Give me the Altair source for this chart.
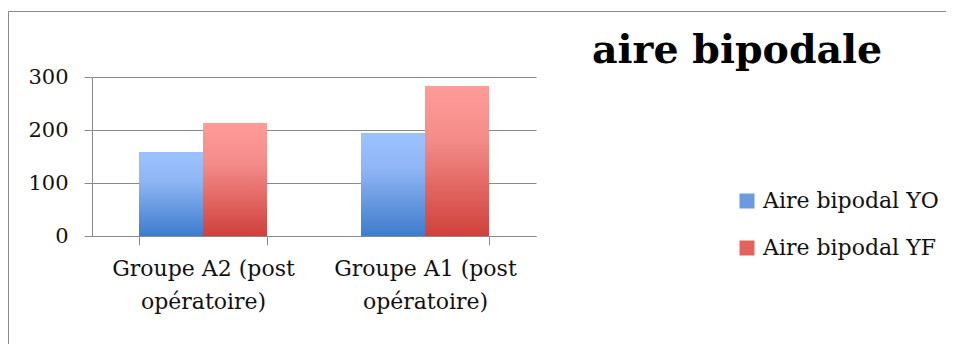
import altair as alt
import pandas as pd

categories = ["Groupe A2 (post\nopératoire)", "Groupe A1 (post\nopératoire)"]
series = ["Aire bipodal YO", "Aire bipodal YF"]
values_yo = [158, 194]
values_yf = [213, 283]
y_ticks = [0, 100, 200, 300]

rows = []
for c, a, b in zip(categories, values_yo, values_yf):
    rows.append({"groupe": c, "serie": series[0], "valeur": a})
    rows.append({"groupe": c, "serie": series[1], "valeur": b})
df = pd.DataFrame(rows)

FONT = "DejaVu Serif"
GRID = "#8a8a8a"

blue_grad = alt.LinearGradient(
    gradient="linear", x1=0, y1=0, x2=0, y2=1,
    stops=[alt.GradientStop(offset=0, color="#9cc2ff"),
           alt.GradientStop(offset=0.35, color="#8fb5f4"),
           alt.GradientStop(offset=1, color="#3d7ccc")])
red_grad = alt.LinearGradient(
    gradient="linear", x1=0, y1=0, x2=0, y2=1,
    stops=[alt.GradientStop(offset=0, color="#ff9b99"),
           alt.GradientStop(offset=0.35, color="#f48d8a"),
           alt.GradientStop(offset=1, color="#d0403b")])

x_enc = alt.X("groupe:N", sort=categories, title=None,
              scale=alt.Scale(paddingInner=0.4235, paddingOuter=0.2118),
              axis=alt.Axis(labelExpr="split(datum.label, '\\n')", labelAngle=0,
                            tickBand="extent", tickSize=9, tickColor=GRID,
                            domainColor=GRID, labelFont=FONT, labelFontSize=22,
                            labelColor="#111111", labelLineHeight=33, labelLimit=400,
                            labelPadding=13, grid=False))
xoff = alt.XOffset("serie:N", sort=series, scale=alt.Scale(paddingInner=0, paddingOuter=0))
y_enc = alt.Y("valeur:Q", title=None,
              scale=alt.Scale(domain=[0, 300], nice=False),
              axis=alt.Axis(values=y_ticks, tickSize=8, tickColor=GRID, domainColor=GRID,
                            gridColor=GRID, gridWidth=1.2, labelFont=FONT, labelFontSize=21,
                            labelColor="#111111", labelPadding=16))

base_bars = alt.Chart(df).mark_bar().encode(
    x=x_enc, xOffset=xoff, y=y_enc,
    color=alt.Color("serie:N", sort=series,
                    scale=alt.Scale(domain=series, range=["#6a9be2", "#e4625e"]),
                    legend=alt.Legend(title=None, orient="none", legendX=644, legendY=113,
                                      symbolType="square", symbolSize=225,
                                      symbolStrokeWidth=0, symbolOpacity=1, labelFont=FONT,
                                      labelFontSize=22, labelColor="#111111",
                                      labelOffset=5, rowPadding=25, padding=0,
                                      labelLimit=400))
)

grad_bars = alt.Chart(df).mark_bar().encode(
    x=alt.X("groupe:N", sort=categories),
    xOffset=alt.XOffset("serie:N", sort=series),
    y=alt.Y("valeur:Q"),
    color=alt.condition(alt.datum.serie == series[0], alt.value(blue_grad), alt.value(red_grad)),
)

frame = alt.Chart(alt.Data(values=[{}])).mark_rect(
    fill="transparent", stroke=GRID, strokeWidth=1
).encode(x=alt.value(-83.5), x2=alt.value(950), y=alt.value(-65.5), y2=alt.value(400))

chart = alt.layer(base_bars, grad_bars, frame).properties(
    width=444, height=159,
    title=alt.TitleParams("aire bipodale", anchor="start", dx=584, dy=93, font=FONT,
                          fontSize=39.5, fontWeight="bold", color="#000000",
                          baseline="alphabetic", offset=2),
    autosize=alt.AutoSizeParams(type="none"),
    padding={"left": 84, "top": 69, "right": 410, "bottom": 108},
).configure_view(stroke=None).configure_axis(labelFont=FONT)

chart.save("out.html", embed_options={"renderer": "svg", "actions": False})
